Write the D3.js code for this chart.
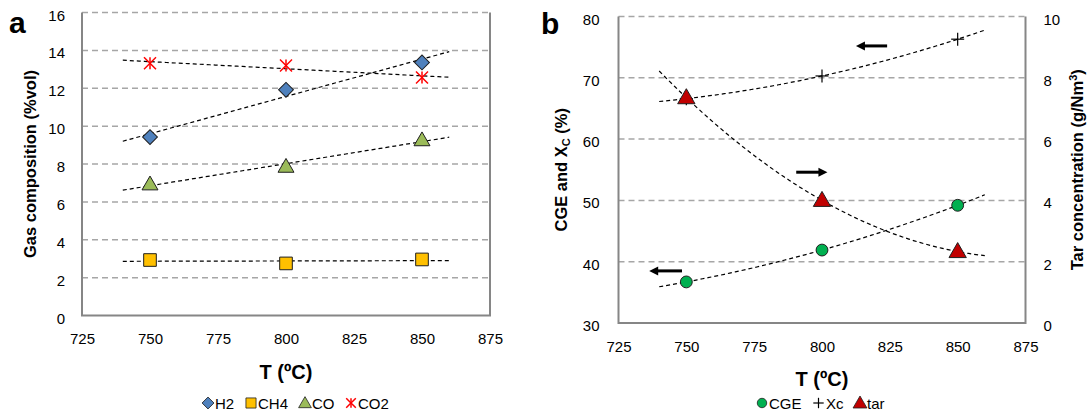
<!DOCTYPE html>
<html>
<head>
<meta charset="utf-8">
<script src="https://cdn.jsdelivr.net/npm/d3@7"></script>
<style>
  html, body { margin: 0; padding: 0; background: #fff; }
  svg { display: block; font-family: Arial, "Liberation Sans", sans-serif; }
  .tick text { font-size: 15px; fill: #000; }
</style>
</head>
<body>
<svg id="chart" width="1090" height="412"></svg>
<script>
// Data
const temps = [750, 800, 850];
const xTicks = [725, 750, 775, 800, 825, 850, 875];
const trendRange = [740, 860];

// panel a: gas composition (%vol)
const h2 = [9.42, 11.92, 13.36];
const ch4 = [2.93, 2.75, 2.96];
const co = [6.93, 7.86, 9.26];
const co2 = [13.32, 13.2, 12.57];
const yTicksA = [0, 2, 4, 6, 8, 10, 12, 14, 16];

// panel b: CGE, Xc (%) on left, tar (g/Nm3) on right
const cge = [36.7, 41.9, 49.2];
const xc = [66.6, 70.3, 76.3];
const tar = [7.35, 4.0, 2.33];
const yTicksB = [30, 40, 50, 60, 70, 80];
const yTicksTar = [0, 2, 4, 6, 8, 10];

// arrows pointing to the axis each curve belongs to
const arrowsB = [
  {x0: 812.5, x1: 824, y: 75.2, dir: -1},
  {x0: 790.5, x1: 802, y: 54.6, dir: 1},
  {x0: 736.3, x1: 748.4, y: 38.5, dir: -1}
];

const svg = d3.select("#chart");

// ---- helpers
function linFit(xs, ys) {
  const n = xs.length;
  const mx = d3.mean(xs), my = d3.mean(ys);
  let sxy = 0, sxx = 0;
  for (let i = 0; i < n; i++) { sxy += (xs[i] - mx) * (ys[i] - my); sxx += (xs[i] - mx) ** 2; }
  const b = sxy / sxx;
  return x => my + b * (x - mx);
}
// 2nd order polynomial through the three points (Newton form)
function polyFit(xs, ys) {
  const d1 = (ys[1] - ys[0]) / (xs[1] - xs[0]);
  const d2 = ((ys[2] - ys[1]) / (xs[2] - xs[1]) - d1) / (xs[2] - xs[0]);
  return x => ys[0] + d1 * (x - xs[0]) + d2 * (x - xs[0]) * (x - xs[1]);
}
function trendPts(f) {
  return d3.range(trendRange[0], trendRange[1] + 0.1, 2).map(x => [x, f(x)]);
}

function drawFrame(g, x, y, ticks, w, h) {
  g.append("g").selectAll("line").data(ticks.filter(t => t !== y.domain()[0]))
    .join("line")
    .attr("x1", 0).attr("x2", w)
    .attr("y1", d => y(d)).attr("y2", d => y(d))
    .attr("stroke", "#a6a6a6").attr("stroke-width", 1.5)
    .attr("stroke-dasharray", "6,4");
  g.append("path")
    .attr("d", `M0,0V${h}H${w}V0`)
    .attr("fill", "none").attr("stroke", "#868686").attr("stroke-width", 2);
}

function xAxis(g, x, h) {
  const ax = g.append("g").attr("transform", `translate(0,${h})`)
    .call(d3.axisBottom(x).tickValues(xTicks).tickSize(0).tickPadding(18));
  ax.select(".domain").remove();
}

function trend(g, x, y, f) {
  g.append("path")
    .datum(trendPts(f))
    .attr("d", d3.line().x(d => x(d[0])).y(d => y(d[1])))
    .attr("fill", "none").attr("stroke", "#000").attr("stroke-width", 1.2)
    .attr("stroke-dasharray", "4,3");
}

const sym = {
  diamond: d3.symbol().type(d3.symbolSquare).size(110)(),
  square: d3.symbol().type(d3.symbolSquare).size(160)(),
  triangle: d3.symbol().type(d3.symbolTriangle).size(110)(),
  triangleB: d3.symbol().type(d3.symbolTriangle).size(130)(),
  circle: d3.symbol().type(d3.symbolCircle).size(110)()
};

function marker(g, kind, cx, cy, scale) {
  const s = scale || 1;
  if (kind === "diamond") {
    g.append("path").attr("d", sym.diamond)
      .attr("transform", `translate(${cx},${cy}) rotate(45) scale(${s})`)
      .attr("fill", "#4f81bd").attr("stroke", "#1f1f1f").attr("stroke-width", 1);
  } else if (kind === "square") {
    g.append("path").attr("d", sym.square)
      .attr("transform", `translate(${cx},${cy}) scale(${s})`)
      .attr("fill", "#ffc000").attr("stroke", "#1f1f1f").attr("stroke-width", 1);
  } else if (kind === "triangle") {
    g.append("path").attr("d", sym.triangle)
      .attr("transform", `translate(${cx},${cy + 1}) scale(${s})`)
      .attr("fill", "#9bbb59").attr("stroke", "#1f1f1f").attr("stroke-width", 1);
  } else if (kind === "triangleB") {
    g.append("path").attr("d", sym.triangleB)
      .attr("transform", `translate(${cx},${cy + 1}) scale(${s})`)
      .attr("fill", "#c00000").attr("stroke", "#1f1f1f").attr("stroke-width", 1);
  } else if (kind === "circle") {
    g.append("path").attr("d", sym.circle)
      .attr("transform", `translate(${cx},${cy}) scale(${s})`)
      .attr("fill", "#00b050").attr("stroke", "#1f1f1f").attr("stroke-width", 1);
  } else if (kind === "star") {
    const r = 6 * s;
    const st = g.append("g").attr("transform", `translate(${cx},${cy})`)
      .attr("stroke", "#ff0000").attr("stroke-width", 1.5);
    st.append("line").attr("x1", -r).attr("x2", r).attr("y1", -r).attr("y2", r);
    st.append("line").attr("x1", -r).attr("x2", r).attr("y1", r).attr("y2", -r);
    st.append("line").attr("x1", 0).attr("x2", 0).attr("y1", -r).attr("y2", r);
  } else if (kind === "plus") {
    const r = 6.5 * s;
    const st = g.append("g").attr("transform", `translate(${cx},${cy})`)
      .attr("stroke", "#000").attr("stroke-width", 1.2);
    st.append("line").attr("x1", -r).attr("x2", r).attr("y1", 0).attr("y2", 0);
    st.append("line").attr("x1", 0).attr("x2", 0).attr("y1", -r).attr("y2", r);
  }
}

// ================= panel a
{
  const L = 82, R = 490, T = 12.5, B = 315.5;
  const w = R - L, h = B - T;
  const g = svg.append("g").attr("transform", `translate(${L},${T})`);
  const x = d3.scaleLinear().domain([725, 875]).range([0, w]);
  const y = d3.scaleLinear().domain([0, 16]).range([h, 0]);

  drawFrame(g, x, y, yTicksA, w, h);
  xAxis(g, x, h);
  const ay = g.append("g").call(d3.axisLeft(y).tickValues(yTicksA).tickSize(0).tickPadding(17));
  ay.select(".domain").remove();
  ay.selectAll("text").attr("dy", "0.5em");

  const series = [
    {vals: co2, kind: "star"},
    {vals: h2, kind: "diamond"},
    {vals: co, kind: "triangle"},
    {vals: ch4, kind: "square"}
  ];
  series.forEach(s => trend(g, x, y, linFit(temps, s.vals)));
  series.forEach(s => temps.forEach((t, i) => marker(g, s.kind, x(t), y(s.vals[i]))));

  g.append("text").attr("x", w / 2).attr("y", h + 63)
    .attr("text-anchor", "middle").attr("font-size", 20).attr("font-weight", "bold")
    .text("T (ºC)");
  g.append("text")
    .attr("transform", `translate(${36 - L},${h / 2}) rotate(-90)`)
    .attr("text-anchor", "middle").attr("font-size", 16.5).attr("font-weight", "bold")
    .text("Gas composition (%vol)");

  svg.append("text").attr("x", 9).attr("y", 33).attr("font-size", 30)
    .attr("font-weight", "bold").text("a");

  const leg = [
    {kind: "diamond", label: "H2", mx: 208, tx: 215},
    {kind: "square", label: "CH4", mx: 251, tx: 258},
    {kind: "triangle", label: "CO", mx: 305, tx: 312},
    {kind: "star", label: "CO2", mx: 351, tx: 358}
  ];
  leg.forEach(d => {
    marker(svg, d.kind, d.mx, 403, 0.8);
    svg.append("text").attr("x", d.tx).attr("y", 409).attr("font-size", 15).text(d.label);
  });
}

// ================= panel b
{
  const L = 618.5, R = 1025.5, T = 16.5, B = 323;
  const w = R - L, h = B - T;
  const g = svg.append("g").attr("transform", `translate(${L},${T})`);
  const x = d3.scaleLinear().domain([725, 875]).range([0, w]);
  const y = d3.scaleLinear().domain([30, 80]).range([h, 0]);
  const y2 = d3.scaleLinear().domain([0, 10]).range([h, 0]);

  drawFrame(g, x, y, yTicksB, w, h);
  xAxis(g, x, h);
  const ay = g.append("g").call(d3.axisLeft(y).tickValues(yTicksB).tickSize(0).tickPadding(19));
  ay.select(".domain").remove();
  ay.selectAll("text").attr("dy", "0.5em");
  const ay2 = g.append("g").attr("transform", `translate(${w},0)`)
    .call(d3.axisRight(y2).tickValues(yTicksTar).tickSize(0).tickPadding(18));
  ay2.select(".domain").remove();
  ay2.selectAll("text").attr("dy", "0.5em");

  trend(g, x, y, polyFit(temps, xc));
  trend(g, x, y2, polyFit(temps, tar));
  trend(g, x, y, polyFit(temps, cge));

  temps.forEach((t, i) => marker(g, "plus", x(t), y(xc[i])));
  temps.forEach((t, i) => marker(g, "triangleB", x(t), y2(tar[i])));
  temps.forEach((t, i) => marker(g, "circle", x(t), y(cge[i])));

  arrowsB.forEach(a => {
    const xs = x(a.x0), xe = x(a.x1), yy = y(a.y);
    const head = 9;
    if (a.dir < 0) {
      g.append("line").attr("x1", xs + head - 1).attr("x2", xe).attr("y1", yy).attr("y2", yy)
        .attr("stroke", "#000").attr("stroke-width", 3);
      g.append("path").attr("d", `M${xs},${yy}L${xs + head},${yy - 4.5}L${xs + head},${yy + 4.5}Z`).attr("fill", "#000");
    } else {
      g.append("line").attr("x1", xs).attr("x2", xe - head + 1).attr("y1", yy).attr("y2", yy)
        .attr("stroke", "#000").attr("stroke-width", 3);
      g.append("path").attr("d", `M${xe},${yy}L${xe - head},${yy - 4.5}L${xe - head},${yy + 4.5}Z`).attr("fill", "#000");
    }
  });

  g.append("text").attr("x", w / 2).attr("y", h + 63)
    .attr("text-anchor", "middle").attr("font-size", 20).attr("font-weight", "bold")
    .text("T (ºC)");

  const t1 = g.append("text")
    .attr("transform", `translate(${567 - L},${h / 2}) rotate(-90)`)
    .attr("text-anchor", "middle").attr("font-size", 16.5).attr("font-weight", "bold");
  t1.append("tspan").text("CGE and X");
  t1.append("tspan").attr("font-size", 11).attr("dy", 3).text("C");
  t1.append("tspan").attr("dy", -3).text(" (%)");

  const t2 = g.append("text")
    .attr("transform", `translate(${1083 - L},${h / 2}) rotate(-90)`)
    .attr("text-anchor", "middle").attr("font-size", 16.5).attr("font-weight", "bold");
  t2.append("tspan").text("Tar concentration (g/Nm");
  t2.append("tspan").attr("font-size", 11).attr("dy", -6).text("3");
  t2.append("tspan").attr("dy", 6).text(")");

  svg.append("text").attr("x", 541).attr("y", 34).attr("font-size", 30)
    .attr("font-weight", "bold").text("b");

  const leg = [
    {kind: "circle", label: "CGE", mx: 762, tx: 769},
    {kind: "plus", label: "Xc", mx: 818.5, tx: 826},
    {kind: "triangleB", label: "tar", mx: 860, tx: 867}
  ];
  leg.forEach(d => {
    marker(svg, d.kind, d.mx, 403, 0.8);
    svg.append("text").attr("x", d.tx).attr("y", 409).attr("font-size", 15).text(d.label);
  });
}
</script>
</body>
</html>
